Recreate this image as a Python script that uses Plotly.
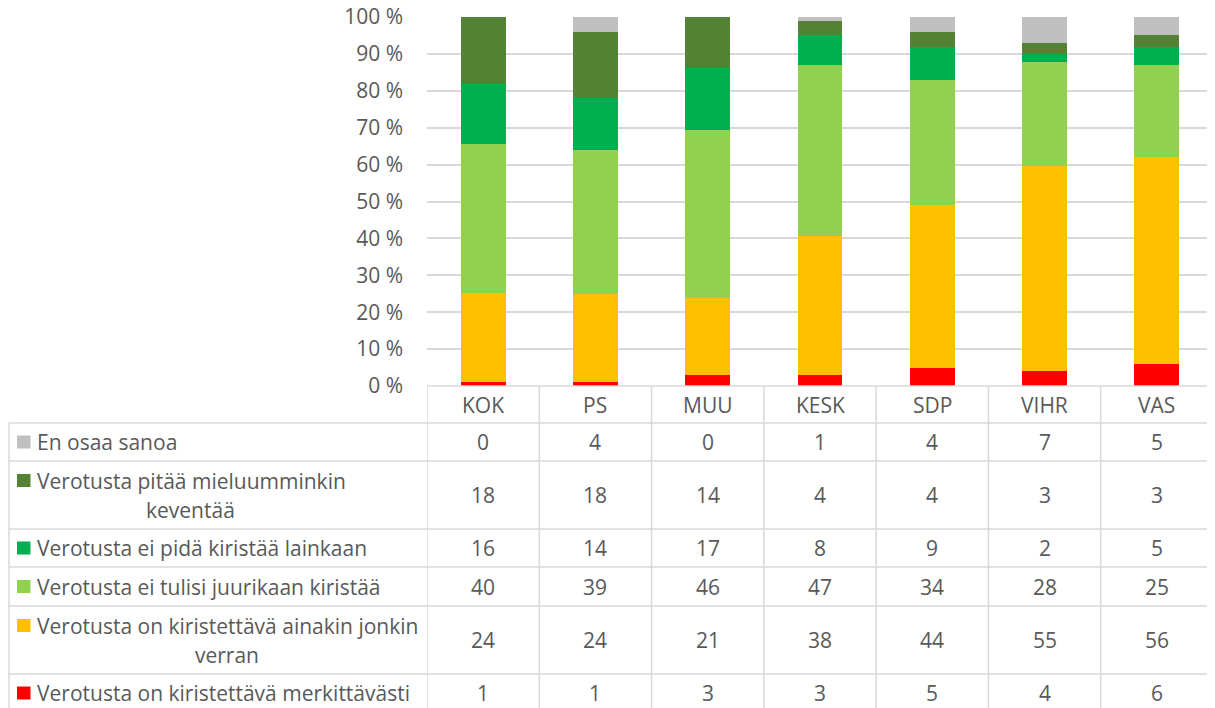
import plotly.graph_objects as go

# ---------------- data ----------------
categories = ["KOK", "PS", "MUU", "KESK", "SDP", "VIHR", "VAS"]

series_red = [1, 1, 3, 3, 5, 4, 6]            # Verotusta on kiristettävä merkittävästi
series_orange = [24, 24, 21, 38, 44, 55, 56]  # ... ainakin jonkin verran
series_lightgreen = [40, 39, 46, 47, 34, 28, 25]
series_green = [16, 14, 17, 8, 9, 2, 5]
series_darkgreen = [18, 18, 14, 4, 4, 3, 3]
series_gray = [0, 4, 0, 1, 4, 7, 5]

label_red = ["Verotusta on kiristettävä merkittävästi"]
label_orange = ["Verotusta on kiristettävä ainakin jonkin", "verran"]
label_lightgreen = ["Verotusta ei tulisi juurikaan kiristää"]
label_green = ["Verotusta ei pidä kiristää lainkaan"]
label_darkgreen = ["Verotusta pitää mieluumminkin", "keventää"]
label_gray = ["En osaa sanoa"]

tick_values = list(range(0, 101, 10))
tick_labels = [f"{v} %" for v in tick_values]

# ---------------- styling ----------------
col_red, col_orange, col_lg, col_g, col_dg, col_gray = (
    "#FF0000", "#FFC000", "#92D050", "#00B050", "#548235", "#BFBFBF")
TXT = "#595959"
FONT = "Open Sans"
FS = 21
LINEC = "#D9D9D9"

OFF = 8  # page body margin
W, H = 1207, 700
L, T = 427 - OFF, 17 - OFF
R = W - (1213 - OFF)
BASE = 386 - OFF
B = H - BASE
PW = W - L - R
PH = H - T - B


def px(x):  # x in screenshot pixels
    return (x - OFF - L) / PW


def py(y):  # y in screenshot pixels
    return (BASE - (y - OFF)) / PH


# bottom -> top stacking order
stack = [
    (label_red, series_red, col_red),
    (label_orange, series_orange, col_orange),
    (label_lightgreen, series_lightgreen, col_lg),
    (label_green, series_green, col_g),
    (label_darkgreen, series_darkgreen, col_dg),
    (label_gray, series_gray, col_gray),
]

fig = go.Figure()
for lab, vals, col in stack:
    fig.add_trace(go.Bar(x=categories, y=vals, name=" ".join(lab),
                         marker=dict(color=col, line=dict(width=0)),
                         showlegend=False, hoverinfo="x+y+name"))

shapes = []
annotations = []

# ---------------- data table ----------------
row_edges = [386, 423, 461, 529, 567, 606, 674, 712]
table_rows = list(reversed(stack))  # top row = gray
second_line_center = {1: 190, 4: 227}

shapes.append(dict(type="line", xref="paper", yref="paper", x0=px(427), x1=px(1213),
                   y0=py(386), y1=py(386), line=dict(color=LINEC, width=1.5)))
for yy in row_edges[1:-1]:
    shapes.append(dict(type="line", xref="paper", yref="paper", x0=px(9), x1=px(1213),
                       y0=py(yy), y1=py(yy), line=dict(color=LINEC, width=1.5)))
shapes.append(dict(type="line", xref="paper", yref="paper", x0=px(9), x1=px(9),
                   y0=py(423), y1=py(712), line=dict(color=LINEC, width=1.5)))
for i in range(len(categories) + 1):
    shapes.append(dict(type="line", xref="x", yref="paper", x0=i - 0.5, x1=i - 0.5,
                       y0=py(386), y1=py(712), line=dict(color=LINEC, width=1.5)))

for c in categories:
    annotations.append(dict(x=c, xref="x", y=py((row_edges[0] + row_edges[1]) / 2), yref="paper",
                            text=c, showarrow=False, xanchor="center", yanchor="middle",
                            font=dict(family=FONT, size=FS, color=TXT)))

for r, (lab, vals, col) in enumerate(table_rows):
    top, bot = row_edges[r + 1], row_edges[r + 2]
    mid = (top + bot) / 2
    ys = [mid] if len(lab) == 1 else [mid - 14.5, mid + 14.5]
    shapes.append(dict(type="rect", xref="paper", yref="paper",
                       x0=px(17), x1=px(30.5), y0=py(ys[0] - 6.5), y1=py(ys[0] + 6.5),
                       fillcolor=col, line=dict(width=0)))
    annotations.append(dict(x=px(35), xref="paper", y=py(ys[0]), yref="paper",
                            text=lab[0], showarrow=False, xanchor="left", yanchor="middle",
                            font=dict(family=FONT, size=FS, color=TXT)))
    if len(lab) > 1:
        annotations.append(dict(x=px(second_line_center[r]), xref="paper", y=py(ys[1]), yref="paper",
                                text=lab[1], showarrow=False, xanchor="center", yanchor="middle",
                                font=dict(family=FONT, size=FS, color=TXT)))
    for c, v in zip(categories, vals):
        annotations.append(dict(x=c, xref="x", y=py(mid), yref="paper",
                                text=str(v), showarrow=False, xanchor="center", yanchor="middle",
                                font=dict(family=FONT, size=FS, color=TXT)))

fig.update_layout(
    width=W, height=H,
    margin=dict(l=L, r=R, t=T, b=B, pad=0, autoexpand=False),
    paper_bgcolor="white", plot_bgcolor="white",
    barmode="stack", barnorm="percent", bargap=0.6,
    shapes=shapes, annotations=annotations,
    xaxis=dict(range=[-0.5, len(categories) - 0.5], showticklabels=False, showgrid=False,
               zeroline=False, showline=False, fixedrange=True, automargin=False),
    yaxis=dict(range=[0, 100], tickmode="array", tickvals=tick_values, ticktext=tick_labels,
               showgrid=True, gridcolor=LINEC, gridwidth=1.5, zeroline=False, showline=False,
               ticks="", ticklabelstandoff=23, ticklabeloverflow="allow", automargin=False,
               tickfont=dict(family=FONT, size=FS, color=TXT), fixedrange=True),
    font=dict(family=FONT, size=FS, color=TXT),
)

fig.write_html("out.html")
